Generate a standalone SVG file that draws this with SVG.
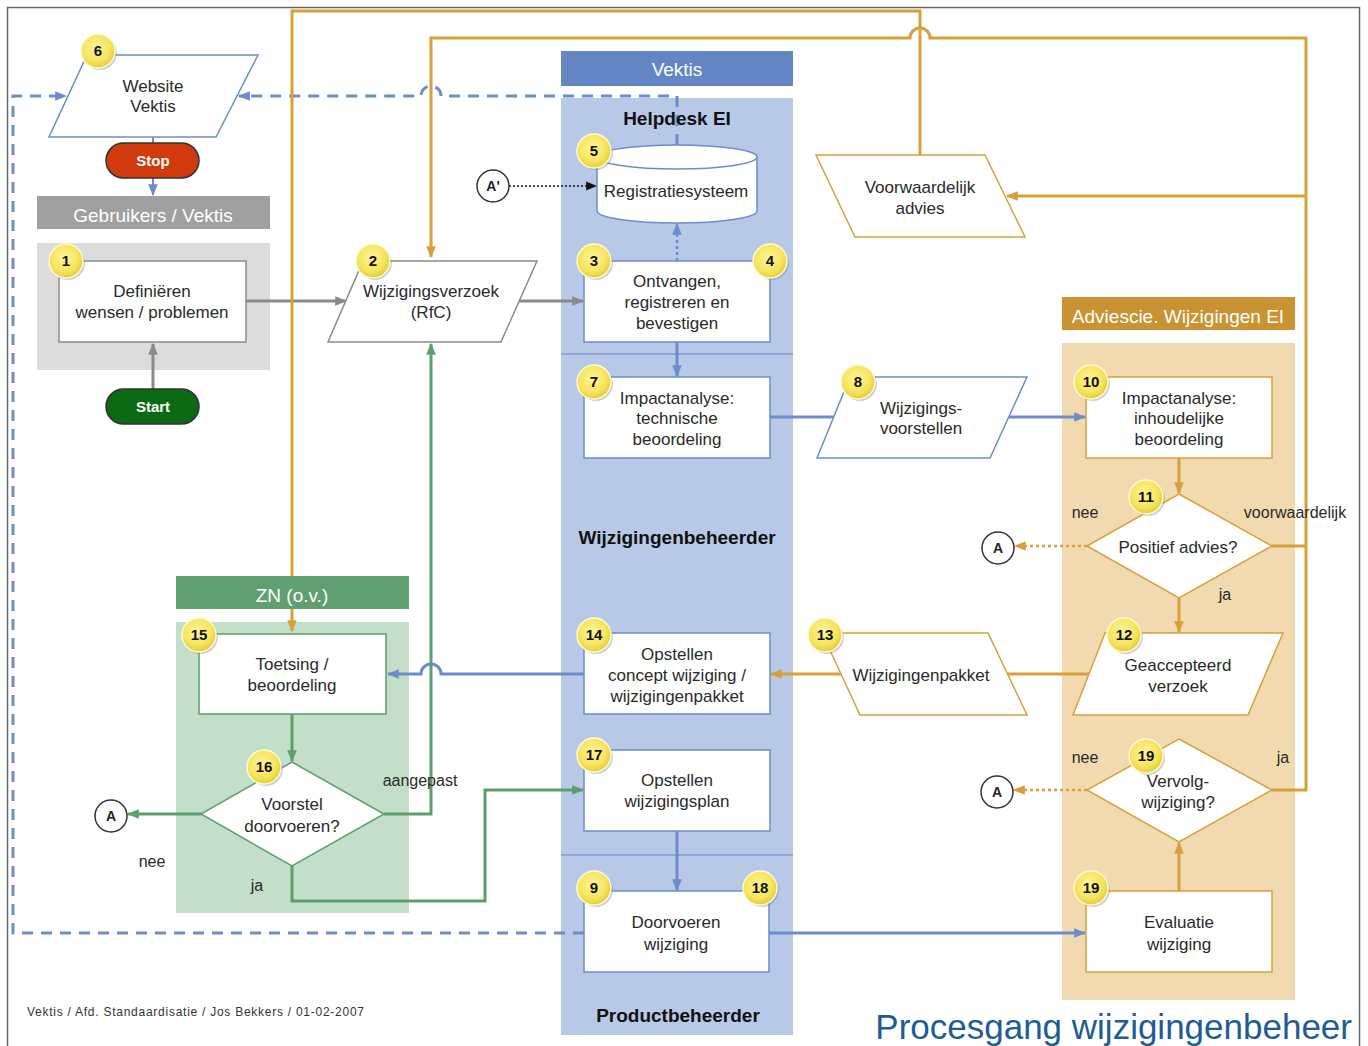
<svg xmlns="http://www.w3.org/2000/svg" width="1368" height="1046" viewBox="0 0 1368 1046">
<style>
text{font-family:"Liberation Sans",Arial,sans-serif;}
.t{font-size:17px;fill:#2a2a2a;text-anchor:middle;}
.lbl{font-size:16px;fill:#2a2a2a;text-anchor:middle;}
.hd{font-size:19px;fill:#ffffff;text-anchor:middle;}
.ln{font-size:19px;font-weight:bold;fill:#111;text-anchor:middle;}
.bn{font-size:15px;font-weight:bold;fill:#111;text-anchor:middle;}
.bc{fill:url(#yg);stroke:#fffbd0;stroke-width:1.5;}
.bs{fill:#777;opacity:0.35;}
.nb{fill:#fff;stroke:#6C8DC9;stroke-width:1.5;}
.ng{fill:#fff;stroke:#8a8a8a;stroke-width:1.5;}
.no{fill:#fff;stroke:#D8A03A;stroke-width:1.5;}
.ngr{fill:#fff;stroke:#5E9E6E;stroke-width:1.5;}
.cb{fill:none;stroke:#6C8DC9;stroke-width:3;}
.cg{fill:none;stroke:#8a8a8a;stroke-width:3;}
.co{fill:none;stroke:#D8A03A;stroke-width:3;}
.cgr{fill:none;stroke:#5E9E6E;stroke-width:3;}
.dash{fill:none;stroke:#6C8DC9;stroke-width:3;stroke-dasharray:11 8;}
.circ{fill:#fff;stroke:#333;stroke-width:1.5;}
.ct{font-size:14px;font-weight:bold;fill:#222;text-anchor:middle;}
</style>
<defs>
<radialGradient id="yg" cx="0.45" cy="0.4" r="0.6">
<stop offset="0" stop-color="#FFF599"/>
<stop offset="0.7" stop-color="#F6E35C"/>
<stop offset="1" stop-color="#E2CB3A"/>
</radialGradient>
<marker id="ab" viewBox="0 0 10 10" refX="9" refY="5" markerWidth="12" markerHeight="12" markerUnits="userSpaceOnUse" orient="auto"><path d="M0,1 L10,5 L0,9 z" fill="#6C8DC9"/></marker>
<marker id="ag" viewBox="0 0 10 10" refX="9" refY="5" markerWidth="12" markerHeight="12" markerUnits="userSpaceOnUse" orient="auto"><path d="M0,1 L10,5 L0,9 z" fill="#8a8a8a"/></marker>
<marker id="ao" viewBox="0 0 10 10" refX="9" refY="5" markerWidth="12" markerHeight="12" markerUnits="userSpaceOnUse" orient="auto"><path d="M0,1 L10,5 L0,9 z" fill="#D8A03A"/></marker>
<marker id="agr" viewBox="0 0 10 10" refX="9" refY="5" markerWidth="12" markerHeight="12" markerUnits="userSpaceOnUse" orient="auto"><path d="M0,1 L10,5 L0,9 z" fill="#5E9E6E"/></marker>
<marker id="ak" viewBox="0 0 10 10" refX="9" refY="5" markerWidth="11" markerHeight="11" markerUnits="userSpaceOnUse" orient="auto"><path d="M0,1 L10,5 L0,9 z" fill="#111"/></marker>
</defs>

<rect x="0" y="0" width="1368" height="1046" fill="#ffffff"/>
<rect x="7.5" y="7.5" width="1352" height="1050" fill="none" stroke="#666" stroke-width="1.5"/>

<!-- lane backgrounds -->
<g id="lanes">
<rect x="37" y="243" width="233" height="127" fill="#DCDCDC"/>
<rect x="561" y="98" width="232" height="937" fill="#B7C9E6"/>
<line x1="561" y1="354" x2="793" y2="354" stroke="#7F9ACD" stroke-width="1.5"/>
<line x1="561" y1="855" x2="793" y2="855" stroke="#7F9ACD" stroke-width="1.5"/>
<rect x="176" y="622" width="233" height="291" fill="#C3DFCA"/>
<rect x="1062" y="343" width="233" height="657" fill="#F1DAB0"/>
</g>

<!-- connectors -->
<g id="connectors">
<!-- dashed blue -->
<path class="dash" d="M584,933 H13 V96 H66" marker-end="url(#ab)"/>
<path class="dash" d="M677,145 V96 H441 A10,10 0 0 0 421,96 H239" marker-end="url(#ab)"/>
<!-- gray -->
<line class="cg" x1="246" y1="301" x2="346" y2="301" marker-end="url(#ag)"/>
<line class="cg" x1="517" y1="301" x2="583" y2="301" marker-end="url(#ag)"/>
<line class="cg" x1="153" y1="389" x2="153" y2="344" marker-end="url(#ag)"/>
<!-- blue -->
<line x1="153" y1="137" x2="153" y2="143" stroke="#6C8DC9" stroke-width="2"/>
<line x1="153" y1="178" x2="153" y2="195" stroke="#6C8DC9" stroke-width="2" marker-end="url(#ab)"/>
<line x1="677" y1="261" x2="677" y2="224" stroke="#6C8DC9" stroke-width="2.5" stroke-dasharray="3 3" marker-end="url(#ab)"/>
<line class="cb" x1="677" y1="342" x2="677" y2="376" marker-end="url(#ab)"/>
<line class="cb" x1="770" y1="417" x2="836" y2="417"/>
<line class="cb" x1="1008" y1="417" x2="1085" y2="417" marker-end="url(#ab)"/>
<path class="cb" d="M584,674 H441 A10,10 0 0 0 421,674 H388" marker-end="url(#ab)"/>
<line class="cb" x1="677" y1="831" x2="677" y2="890" marker-end="url(#ab)"/>
<line class="cb" x1="769" y1="933" x2="1085" y2="933" marker-end="url(#ab)"/>
<!-- dotted black -->
<line x1="509" y1="186" x2="596" y2="186" stroke="#111" stroke-width="1.5" stroke-dasharray="2 2" marker-end="url(#ak)"/>
<!-- orange -->
<path class="co" d="M920,155 V11 H292 V631" marker-end="url(#ao)"/>
<path class="co" d="M1272,546 H1306 M1272,790 H1306 V38 H930 A10,10 0 0 0 910,38 H431 V257" marker-end="url(#ao)"/>
<line class="co" x1="1306" y1="196" x2="1007" y2="196" marker-end="url(#ao)"/>
<line class="co" x1="1179" y1="458" x2="1179" y2="493" marker-end="url(#ao)"/>
<line class="co" x1="1179" y1="598" x2="1179" y2="632" marker-end="url(#ao)"/>
<line class="co" x1="1179" y1="891" x2="1179" y2="843" marker-end="url(#ao)"/>
<line class="co" x1="1090" y1="674" x2="1008" y2="674"/>
<line class="co" x1="841" y1="674" x2="771" y2="674" marker-end="url(#ao)"/>
<line x1="1087" y1="546" x2="1015" y2="546" stroke="#D8A03A" stroke-width="2.5" stroke-dasharray="3 3" marker-end="url(#ao)"/>
<line x1="1087" y1="790" x2="1014" y2="790" stroke="#D8A03A" stroke-width="2.5" stroke-dasharray="3 3" marker-end="url(#ao)"/>
<!-- green -->
<line class="cgr" x1="292" y1="714" x2="292" y2="761" marker-end="url(#agr)"/>
<path class="cgr" d="M384,814 H431 V344" marker-end="url(#agr)"/>
<line class="cgr" x1="201" y1="814" x2="128" y2="814" marker-end="url(#agr)"/>
<path class="cgr" d="M292,866 V901 H485 V790 H583" marker-end="url(#agr)"/>
</g>

<!-- lane headers and labels -->
<g id="lane-headers">
<rect x="37" y="196" width="233" height="33" fill="#A0A0A0"/>
<text class="hd" x="153" y="222">Gebruikers / Vektis</text>
<rect x="561" y="51" width="232" height="35" fill="#6486C4"/>
<text class="hd" x="677" y="76">Vektis</text>
<rect x="176" y="576" width="233" height="33" fill="#5F9F70"/>
<text class="hd" x="292" y="602">ZN (o.v.)</text>
<rect x="1062" y="297" width="233" height="33" fill="#C99232"/>
<text class="hd" x="1178" y="323">Adviescie. Wijzigingen EI</text>
<text class="ln" x="677" y="125">Helpdesk EI</text>
<text class="ln" x="677" y="544">Wijzigingenbeheerder</text>
<text class="ln" x="678" y="1022">Productbeheerder</text>
</g>

<!-- nodes -->
<g id="n6">
<polygon class="nb" points="87,55 258,55 216,137 49,137"/>
<text class="t" x="153" y="92">Website</text>
<text class="t" x="153" y="112">Vektis</text>
<circle class="bs" cx="100" cy="53" r="17"/><circle class="bc" cx="98" cy="51" r="17"/><text class="bn" x="98" y="56">6</text>
</g>
<g id="stop">
<rect x="106" y="143" width="93" height="35" rx="17.5" fill="#D03A0C" stroke="#333" stroke-width="1.5"/>
<text x="153" y="166" font-size="15" font-weight="bold" fill="#fff" text-anchor="middle">Stop</text>
</g>
<g id="start">
<rect x="106" y="389" width="93" height="35" rx="17.5" fill="#0B6A12" stroke="#333" stroke-width="1.5"/>
<text x="153" y="412" font-size="15" font-weight="bold" fill="#fff" text-anchor="middle">Start</text>
</g>
<g id="n1">
<rect class="ng" x="59" y="261" width="187" height="81"/>
<text class="t" x="152" y="297">Definiëren</text>
<text class="t" x="152" y="318">wensen / problemen</text>
<circle class="bs" cx="68" cy="263" r="17"/><circle class="bc" cx="66" cy="261" r="17"/><text class="bn" x="66" y="266">1</text>
</g>
<g id="n2">
<polygon class="ng" points="363,261 537,261 501,342 328,342"/>
<text class="t" x="431" y="297">Wijzigingsverzoek</text>
<text class="t" x="431" y="318">(RfC)</text>
<circle class="bs" cx="375" cy="263" r="17"/><circle class="bc" cx="373" cy="261" r="17"/><text class="bn" x="373" y="266">2</text>
</g>
<g id="n5">
<path class="nb" d="M597,157 V211 A80,12 0 0 0 757,211 V157"/>
<ellipse class="nb" cx="677" cy="157" rx="80" ry="12"/>
<text class="t" x="676" y="197">Registratiesysteem</text>
<circle class="bs" cx="596" cy="153" r="17"/><circle class="bc" cx="594" cy="151" r="17"/><text class="bn" x="594" y="156">5</text>
</g>
<g id="aprime">
<circle class="circ" cx="493" cy="186" r="16"/>
<text class="ct" x="493" y="191">A'</text>
</g>
<g id="n3">
<rect class="nb" x="584" y="261" width="186" height="81"/>
<text class="t" x="677" y="287">Ontvangen,</text>
<text class="t" x="677" y="308">registreren en</text>
<text class="t" x="677" y="329">bevestigen</text>
<circle class="bs" cx="596" cy="263" r="17"/><circle class="bc" cx="594" cy="261" r="17"/><text class="bn" x="594" y="266">3</text>
<circle class="bs" cx="772" cy="263" r="17"/><circle class="bc" cx="770" cy="261" r="17"/><text class="bn" x="770" y="266">4</text>
</g>
<g id="n7">
<rect class="nb" x="584" y="377" width="186" height="81"/>
<text class="t" x="677" y="404">Impactanalyse:</text>
<text class="t" x="677" y="424">technische</text>
<text class="t" x="677" y="445">beoordeling</text>
<circle class="bs" cx="596" cy="384" r="17"/><circle class="bc" cx="594" cy="382" r="17"/><text class="bn" x="594" y="387">7</text>
</g>
<g id="n8">
<polygon class="nb" points="850,377 1027,377 990,458 817,458"/>
<text class="t" x="921" y="414">Wijzigings-</text>
<text class="t" x="921" y="434">voorstellen</text>
<circle class="bs" cx="860" cy="384" r="17"/><circle class="bc" cx="858" cy="382" r="17"/><text class="bn" x="858" y="387">8</text>
</g>
<g id="nva">
<polygon class="no" points="816,155 985,155 1025,237 855,237"/>
<text class="t" x="920" y="193">Voorwaardelijk</text>
<text class="t" x="920" y="214">advies</text>
</g>
<g id="n10">
<rect class="no" x="1086" y="377" width="186" height="81"/>
<text class="t" x="1179" y="404">Impactanalyse:</text>
<text class="t" x="1179" y="424">inhoudelijke</text>
<text class="t" x="1179" y="445">beoordeling</text>
<circle class="bs" cx="1093" cy="384" r="17"/><circle class="bc" cx="1091" cy="382" r="17"/><text class="bn" x="1091" y="387">10</text>
</g>
<g id="n11">
<polygon class="no" points="1179,494 1272,546 1179,598 1087,546"/>
<text class="t" x="1178" y="553">Positief advies?</text>
<circle class="bs" cx="1148" cy="499" r="17"/><circle class="bc" cx="1146" cy="497" r="17"/><text class="bn" x="1146" y="502">11</text>
</g>
<g id="aA1">
<circle class="circ" cx="998" cy="548" r="16"/>
<text class="ct" x="998" y="553">A</text>
</g>
<g id="n12">
<polygon class="no" points="1105,633 1283,633 1248,715 1073,715"/>
<text class="t" x="1178" y="671">Geaccepteerd</text>
<text class="t" x="1178" y="692">verzoek</text>
<circle class="bs" cx="1126" cy="637" r="17"/><circle class="bc" cx="1124" cy="635" r="17"/><text class="bn" x="1124" y="640">12</text>
</g>
<g id="n13">
<polygon class="no" points="822,633 988,633 1027,715 860,715"/>
<text class="t" x="921" y="681">Wijzigingenpakket</text>
<circle class="bs" cx="827" cy="637" r="17"/><circle class="bc" cx="825" cy="635" r="17"/><text class="bn" x="825" y="640">13</text>
</g>
<g id="n14">
<rect class="nb" x="584" y="633" width="186" height="81"/>
<text class="t" x="677" y="660">Opstellen</text>
<text class="t" x="677" y="681">concept wijziging /</text>
<text class="t" x="677" y="702">wijzigingenpakket</text>
<circle class="bs" cx="596" cy="637" r="17"/><circle class="bc" cx="594" cy="635" r="17"/><text class="bn" x="594" y="640">14</text>
</g>
<g id="n15">
<rect class="ngr" x="199" y="634" width="187" height="80"/>
<text class="t" x="292" y="670">Toetsing /</text>
<text class="t" x="292" y="691">beoordeling</text>
<circle class="bs" cx="201" cy="637" r="17"/><circle class="bc" cx="199" cy="635" r="17"/><text class="bn" x="199" y="640">15</text>
</g>
<g id="n16">
<polygon class="ngr" points="292,762 384,814 292,866 201,814"/>
<text class="t" x="292" y="810">Voorstel</text>
<text class="t" x="292" y="832">doorvoeren?</text>
<circle class="bs" cx="266" cy="769" r="17"/><circle class="bc" cx="264" cy="767" r="17"/><text class="bn" x="264" y="772">16</text>
</g>
<g id="aA3">
<circle class="circ" cx="111" cy="816" r="16"/>
<text class="ct" x="111" y="821">A</text>
</g>
<g id="n17">
<rect class="nb" x="584" y="750" width="186" height="81"/>
<text class="t" x="677" y="786">Opstellen</text>
<text class="t" x="677" y="807">wijzigingsplan</text>
<circle class="bs" cx="596" cy="757" r="17"/><circle class="bc" cx="594" cy="755" r="17"/><text class="bn" x="594" y="760">17</text>
</g>
<g id="n9">
<rect class="nb" x="584" y="891" width="185" height="81"/>
<text class="t" x="676" y="928">Doorvoeren</text>
<text class="t" x="676" y="950">wijziging</text>
<circle class="bs" cx="596" cy="890" r="17"/><circle class="bc" cx="594" cy="888" r="17"/><text class="bn" x="594" y="893">9</text>
<circle class="bs" cx="762" cy="890" r="17"/><circle class="bc" cx="760" cy="888" r="17"/><text class="bn" x="760" y="893">18</text>
</g>
<g id="n19d">
<polygon class="no" points="1179,739 1272,790 1179,842 1087,790"/>
<text class="t" x="1178" y="787">Vervolg-</text>
<text class="t" x="1178" y="808">wijziging?</text>
<circle class="bs" cx="1148" cy="758" r="17"/><circle class="bc" cx="1146" cy="756" r="17"/><text class="bn" x="1146" y="761">19</text>
</g>
<g id="aA2">
<circle class="circ" cx="997" cy="792" r="16"/>
<text class="ct" x="997" y="797">A</text>
</g>
<g id="n19">
<rect class="no" x="1086" y="891" width="186" height="81"/>
<text class="t" x="1179" y="928">Evaluatie</text>
<text class="t" x="1179" y="950">wijziging</text>
<circle class="bs" cx="1093" cy="890" r="17"/><circle class="bc" cx="1091" cy="888" r="17"/><text class="bn" x="1091" y="893">19</text>
</g>

<!-- branch labels -->
<g id="labels">
<text class="lbl" x="1085" y="518">nee</text>
<text class="lbl" x="1295" y="518">voorwaardelijk</text>
<text class="lbl" x="1225" y="600">ja</text>
<text class="lbl" x="1085" y="763">nee</text>
<text class="lbl" x="1283" y="763">ja</text>
<text class="lbl" x="420" y="786">aangepast</text>
<text class="lbl" x="152" y="867">nee</text>
<text class="lbl" x="257" y="891">ja</text>
</g>

<text x="27" y="1016" font-size="12" fill="#333" textLength="337" lengthAdjust="spacing">Vektis / Afd. Standaardisatie / Jos Bekkers / 01-02-2007</text>
<text x="1352" y="1039" font-size="35" fill="#1F5C96" text-anchor="end">Procesgang wijzigingenbeheer</text>
</svg>
